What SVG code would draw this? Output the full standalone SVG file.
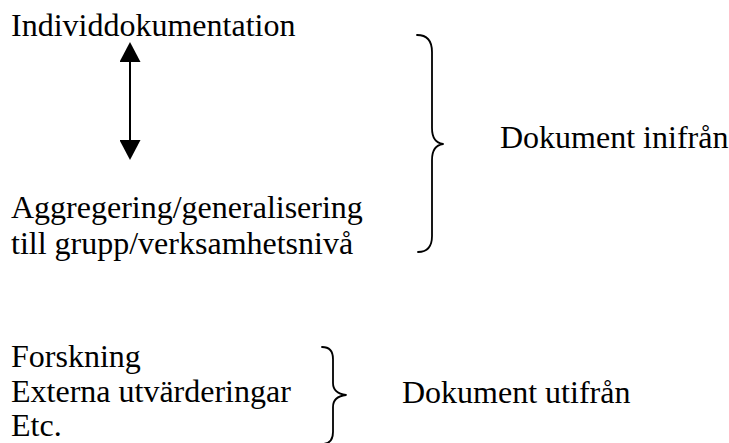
<svg xmlns="http://www.w3.org/2000/svg" width="729" height="443" viewBox="0 0 729 443">
<style>
  text { font-family: "Liberation Serif", "Times New Roman", serif; font-size: 32px; fill: #000; }
  .brace { fill: none; stroke: #000; stroke-width: 1.8; stroke-linecap: round; stroke-linejoin: round; }
  .shaft { stroke: #000; stroke-width: 2; }
</style>
<defs>
  <marker id="ah" viewBox="0 0 20 21" refX="0" refY="10.5" markerWidth="20" markerHeight="21" markerUnits="userSpaceOnUse" orient="auto-start-reverse">
    <path d="M0,0 L20,10.5 L0,21 z" fill="#000"/>
  </marker>
</defs>
<rect width="729" height="443" fill="#fff"/>
<g id="individ"><text x="11" y="36">Individdokumentation</text></g>
<g id="aggregering">
  <text x="11" y="218">Aggregering/generalisering</text>
  <text x="11" y="254">till grupp/verksamhetsnivå</text>
</g>
<g id="inifran"><text x="500" y="148">Dokument inifrån</text></g>
<g id="externa">
  <text x="11" y="367">Forskning</text>
  <text x="11" y="402">Externa utvärderingar</text>
  <text x="11" y="436">Etc.</text>
</g>
<g id="utifran"><text x="402" y="403">Dokument utifrån</text></g>
<g id="connectors">
  <line class="shaft" x1="130" y1="62" x2="130" y2="140" marker-start="url(#ah)" marker-end="url(#ah)"/>
  <path class="brace" d="M417,35 C427,35 432,40 432,52 L432,128 C432,138 436,143 443,144 C436,145 432,150 432,160 L432,236 C432,247 427,252 418,252"/>
  <path class="brace" d="M322,347 C329,347 333,351 333,359 L333,383 C333,390 338,394 346,395 C338,396 333,400 333,407 L333,432 C333,440 329,444 322,444"/>
</g>
</svg>
